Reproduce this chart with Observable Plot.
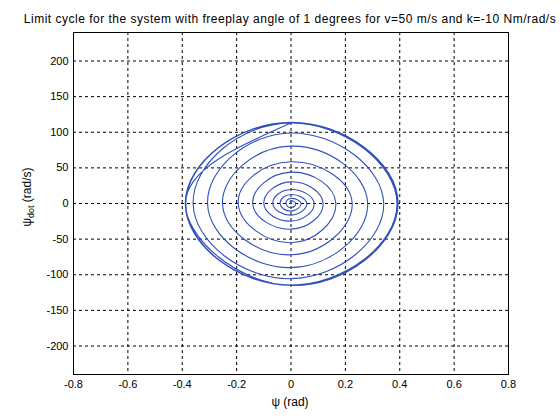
<!DOCTYPE html>
<html><head><meta charset="utf-8">
<script src="https://cdn.jsdelivr.net/npm/d3@7"></script>
<script src="https://cdn.jsdelivr.net/npm/@observablehq/plot@0.6"></script>
<style>
body{margin:0;background:#fff;}
svg{font-family:"Liberation Sans",Arial,Helvetica,sans-serif;}
</style></head><body><div id="chart"></div>
<script>
const titleText = "Limit cycle for the system with freeplay angle of 1 degrees for v=50 m/s and k=-10 Nm/rad/s";
const xLabel = "ψ (rad)";
const xTicks = [-0.8, -0.6, -0.4, -0.2, 0, 0.2, 0.4, 0.6, 0.8];
const yTicks = [-200, -150, -100, -50, 0, 50, 100, 150, 200];

// Spiral read at axis crossings, in order (top, right, bottom, left per turn)
const psi = [0.000,
  0.000, 0.018, 0.000, -0.018,
  0.000, 0.037, 0.000, -0.040,
  0.000, 0.058, 0.000, -0.067,
  0.000, 0.085, 0.000, -0.100,
  0.000, 0.118, 0.000, -0.141,
  0.000, 0.165, 0.000, -0.194,
  0.000, 0.225, 0.000, -0.252,
  0.000, 0.282, 0.000, -0.307,
  0.000, 0.341, 0.000, -0.360,
  0.000, 0.390, 0.000, -0.387,
  0.000, 0.393, 0.000, -0.389,
  0.000, 0.394, 0.000, -0.388,
  0.000];
const psiDot = [0,
  4, 0, -6, 0,
  7.1, 0, -10.7, 0,
  12.7, 0, -16.3, 0,
  19.7, 0, -24.7, 0,
  30.4, 0, -36, 0,
  44, 0, -55, 0,
  58.5, 0, -72, 0,
  80.5, 0, -90, 0,
  99, 0, -105.5, 0,
  113, 0, -114.4, 0,
  113.5, 0, -114.8, 0,
  114, 0, -115, 0,
  113];

const data = psi.map((p, i) => ({psi: p, psiDot: psiDot[i]}));
const fmt = d => d === 0 ? "0" : String(d);
const ff = '"Liberation Sans", Arial, Helvetica, sans-serif';

const plot = Plot.plot({
  width: 560, height: 420,
  marginTop: 32, marginBottom: 46, marginLeft: 73, marginRight: 52,
  style: {background: "#fff", fontFamily: ff, fontSize: "11px", color: "#000"},
  x: {domain: [-0.8, 0.8], label: null},
  y: {domain: [-240, 240], label: null},
  marks: [
    Plot.gridX(xTicks, {stroke: "#000", strokeOpacity: 1, strokeDasharray: "3,3"}),
    Plot.gridY(yTicks, {stroke: "#000", strokeOpacity: 1, strokeDasharray: "3,3"}),
    Plot.line(data, {x: "psi", y: "psiDot", curve: "natural", stroke: "#3050bb", strokeWidth: 1.1}),
    Plot.frame({stroke: "#000"}),
    Plot.axisX(xTicks, {tickSize: 0, tickPadding: 6, tickFormat: fmt, label: null}),
    Plot.axisY(yTicks, {tickSize: 0, tickPadding: 5, tickFormat: fmt, label: null})
  ]
});
document.getElementById("chart").appendChild(plot);

const svg = d3.select(plot);
svg.append("text").attr("x", 290).attr("y", 23).attr("text-anchor", "middle")
  .attr("font-size", 12).attr("letter-spacing", 0.5).attr("font-family", ff).attr("fill", "#000").text(titleText);
svg.append("text").attr("x", 290).attr("y", 406).attr("text-anchor", "middle")
  .attr("font-size", 12).attr("font-family", ff).attr("fill", "#000").text(xLabel);
const yl = svg.append("text").attr("transform", "translate(31,197) rotate(-90)")
  .attr("text-anchor", "middle").attr("font-size", 12).attr("font-family", ff).attr("fill", "#000");
yl.append("tspan").text("ψ");
yl.append("tspan").attr("font-size", 9).attr("dy", 3).text("dot");
yl.append("tspan").attr("dy", -3).text(" (rad/s)");
</script></body></html>
